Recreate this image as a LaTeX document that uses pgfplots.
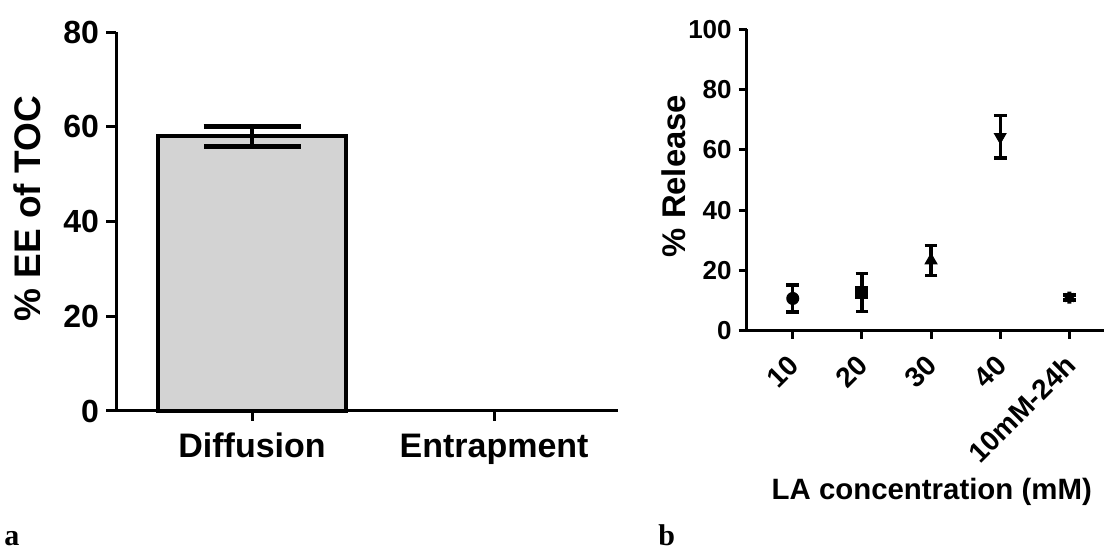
\documentclass[border=0pt]{standalone}
\usepackage{fontspec}
\setmainfont{Liberation Sans}
\newfontfamily\serifbf{Liberation Serif}
\usepackage{pgfplots}
\pgfplotsset{compat=1.18}
\usetikzlibrary{plotmarks}
\definecolor{barfill}{RGB}{211,211,211}
\begin{document}
\begin{tikzpicture}
\useasboundingbox (0,0) rectangle (553pt,275pt);
% ---------- panel a ----------
\begin{axis}[
  at={(58pt,69.5pt)}, anchor=south west,
  scale only axis, width=251pt, height=189.5pt,
  xmin=-0.562, xmax=1.512, ymin=0, ymax=80,
  axis lines=left, axis line style={-, line width=1.5pt},
  xtick={0,1}, xticklabels={Diffusion,Entrapment},
  ytick={0,20,40,60,80},
  tick align=outside, major tick length=5pt,
  tick style={line width=1.5pt, black},
  /pgf/number format/assume math mode=true,
  yticklabel style={font=\fontsize{16}{18}\selectfont\bfseries},
  xticklabel style={font=\fontsize{17}{19}\selectfont\bfseries, text height=0.75em, text depth=0.22em, yshift=-7pt},
  ylabel={\% EE of TOC},
  ylabel style={font=\fontsize{18.5}{21}\selectfont\bfseries, at={(axis description cs:-0.176,0.533)}, anchor=center},
  clip=false,
]
\addplot[ybar, bar width=94pt, fill=barfill, draw=black, line width=2pt,
  error bars/y dir=both, error bars/y explicit,
  error bars/error bar style={line width=2.3pt, black},
  error bars/error mark options={line width=2.5pt, mark size=24.25pt, black, rotate=90}]
  coordinates {(0,58) +- (0,2.1)};
\end{axis}
% ---------- panel b ----------
\begin{axis}[
  at={(373.35pt,109.65pt)}, anchor=south west,
  scale only axis, width=178.6pt, height=150.7pt,
  xmin=-0.666, xmax=4.5, ymin=0, ymax=100,
  axis lines=left, axis line style={-, line width=1.5pt},
  xtick={0,1,2,3,4}, xticklabels={10,20,30,40,10mM-24h},
  ytick={0,20,40,60,80,100},
  tick align=outside, major tick length=4pt,
  tick style={line width=1.5pt, black},
  /pgf/number format/assume math mode=true,
  yticklabel style={font=\fontsize{13}{15}\selectfont\bfseries},
  xticklabel style={font=\fontsize{14}{16}\selectfont\bfseries, yshift=-8.5pt, xshift=3pt, rotate=45, anchor=east},
  ylabel={\% Release},
  ylabel style={font=\fontsize{16.4}{19}\selectfont\bfseries, at={(axis description cs:-0.205,0.513)}, anchor=center},
  xlabel={LA concentration (mM)},
  xlabel style={font=\fontsize{14.7}{17}\selectfont\bfseries, at={(axis description cs:0.518,-0.534)}, anchor=center},
  clip=false,
  every axis plot/.append style={only marks, black, mark options={fill=black, draw=black, line width=0.5pt},
    error bars/y dir=both, error bars/y explicit,
    error bars/error bar style={line width=1.6pt, black},
    error bars/error mark options={line width=1.7pt, mark size=3.2pt, black, rotate=90}},
]
\addplot[mark=*, mark size=3pt] coordinates {(0,10.7) +- (0,4.5)};
\addplot[mark=square*, mark size=3pt] coordinates {(1,12.7) +- (0,6.3)};
\addplot[mark=triangle*, mark size=3.4pt] coordinates {(2,23.3) +- (0,5.0)};
\addplot[mark=triangle*, mark size=3.4pt, mark options={rotate=180}] coordinates {(3,64.3) +- (0,7.0)};
\addplot[mark=asterisk, mark size=3pt, mark options={line width=2pt}] coordinates {(4,11.0) +- (0,0.8)};
\end{axis}
\node[anchor=base west, inner sep=0pt, font=\fontsize{15}{17}\selectfont\serifbf\bfseries] at (2pt,2pt) {a};
\node[anchor=base west, inner sep=0pt, font=\fontsize{15}{17}\selectfont\serifbf\bfseries] at (329pt,2pt) {b};
\end{tikzpicture}
\end{document}
